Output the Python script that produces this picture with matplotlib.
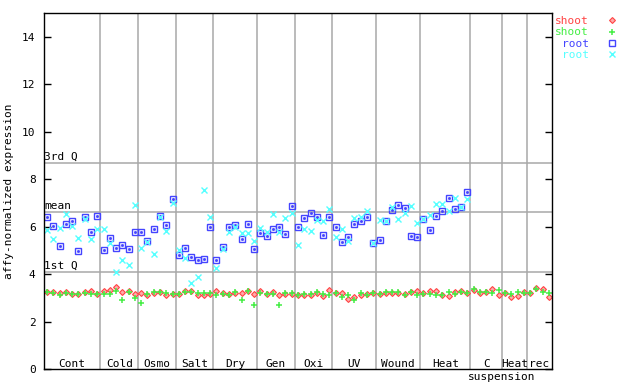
import numpy as np
import matplotlib
matplotlib.use("Agg")
import matplotlib.pyplot as plt

plt.rcParams['font.family'] = 'DejaVu Sans Mono'

# groups along x
groups = ["Cont", "Cold", "Osmo", "Salt", "Dry", "Gen", "Oxi", "UV", "Wound", "Heat", "C", "Heat", "rec"]
sizes = [9, 6, 6, 6, 7, 6, 6, 7, 7, 8, 5, 4, 4]

# shoot replicate 1 (red) and 2 (green)
shoot1 = [3.26, 3.25, 3.20, 3.25, 3.15, 3.15, 3.25, 3.30, 3.17,
          3.29, 3.33, 3.45, 3.24, 3.29, 3.15,
          3.19, 3.12, 3.19, 3.24, 3.12, 3.16,
          3.16, 3.29, 3.28, 3.12, 3.12, 3.16,
          3.29, 3.20, 3.16, 3.20, 3.20, 3.29, 3.16,
          3.29, 3.15, 3.24, 3.12, 3.16, 3.16,
          3.12, 3.12, 3.12, 3.20, 3.06, 3.33,
          3.20, 3.20, 2.94, 3.02, 3.12, 3.16, 3.19,
          3.16, 3.20, 3.20, 3.20, 3.16, 3.24, 3.29,
          3.20, 3.29, 3.29, 3.12, 3.08, 3.24, 3.29, 3.19,
          3.33, 3.20, 3.24, 3.38, 3.11,
          3.20, 3.03, 3.08, 3.24,
          3.19, 3.42, 3.38, 3.02]
shoot2 = [3.23, 3.22, 3.10, 3.20, 3.16, 3.15, 3.21, 3.17, 3.16,
          3.15, 3.16, 3.29, 2.90, 3.24, 2.98,
          2.77, 3.15, 3.24, 3.24, 3.19, 3.16,
          3.16, 3.24, 3.24, 3.19, 3.19, 3.21,
          3.12, 3.16, 3.12, 3.24, 2.90, 3.29, 2.69,
          3.20, 3.16, 3.16, 2.69, 3.20, 3.20,
          3.12, 3.16, 3.16, 3.24, 3.16, 3.12,
          3.20, 3.02, 3.12, 2.90, 3.20, 3.12, 3.19,
          3.16, 3.24, 3.24, 3.24, 3.12, 3.24, 3.12,
          3.16, 3.16, 3.12, 3.12, 3.24, 3.16, 3.24, 3.19,
          3.38, 3.24, 3.24, 3.20, 3.33,
          3.20, 3.16, 3.24, 3.19,
          3.19, 3.38, 3.24, 3.19]

# root replicate 1 (blue) and 2 (cyan), only first 68 samples
root1 = [6.39, 6.01, 5.17, 6.11, 6.22, 4.97, 6.39, 5.77, 6.43,
         5.01, 5.51, 5.10, 5.21, 5.06, 5.77,
         5.77, 5.38, 5.89, 6.43, 6.05, 7.16,
         4.79, 5.08, 4.71, 4.59, 4.62, 5.97,
         4.58, 5.12, 5.97, 6.05, 5.47, 6.10, 5.05,
         5.72, 5.59, 5.89, 5.97, 5.68, 6.86,
         5.97, 6.35, 6.56, 6.39, 5.63, 6.39,
         5.97, 5.34, 5.55, 6.10, 6.22, 6.39, 5.30,
         5.42, 6.22, 6.69, 6.90, 6.77, 5.59, 5.55,
         6.31, 5.85, 6.43, 6.65, 7.19, 6.73, 6.81, 7.45]
root2 = [5.86, 5.46, 5.93, 6.52, 6.01, 5.51, 6.31, 5.46, 5.89,
         5.89, 5.30, 4.08, 4.59, 4.37, 6.90,
         5.10, 5.34, 4.83, 6.39, 5.80, 6.98,
         5.01, 4.66, 3.61, 3.86, 7.54, 6.39,
         4.24, 5.04, 5.76, 5.97, 5.72, 5.72, 5.39,
         5.93, 5.76, 6.52, 5.76, 6.35, 6.56,
         5.21, 5.89, 5.80, 6.27, 6.22, 6.73,
         5.55, 5.89, 5.38, 6.35, 6.39, 6.65, 5.30,
         6.27, 6.22, 6.81, 6.31, 6.56, 6.86, 6.14,
         6.31, 6.48, 6.94, 6.94, 6.65, 7.19, 6.81, 7.15]

q3 = 8.68
mean = 6.61
q1 = 4.08

n = sum(sizes)
xs = np.arange(n) + 0.5
xr = np.arange(len(root1)) + 0.5
bounds = np.cumsum(sizes)

fig = plt.figure(figsize=(6.4, 3.84), dpi=100)
ax = fig.add_axes([44/640, 1-369/384, 508/640, 356/384])

gray = '#a8a8a8'
for b in bounds[:-1]:
    ax.axvline(b, color=gray, lw=1.1, zorder=1)
for v in [q3, mean, q1]:
    ax.axhline(v, color=gray, lw=1.1, zorder=1)

fs = 8
ax.text(0.05, q3 + 0.05, "3rd Q", fontsize=fs, va='bottom')
ax.text(0.05, mean + 0.05, "mean", fontsize=fs, va='bottom')
ax.text(0.05, q1 + 0.05, "1st Q", fontsize=fs, va='bottom')

l1, = ax.plot(xs, shoot1, ls='none', marker='D', ms=3.0, mfc='#ffaaaa', mec='#ff4444', mew=0.8, label='shoot')
l2, = ax.plot(xs, shoot2, ls='none', marker='+', ms=4.5, mew=1.1, color='#44ee44', label='shoot')
l3, = ax.plot(xr, root1, ls='none', marker='s', ms=4.0, mfc='none', mec='#4444ff', mew=1.0, label='root')
ax.plot(xr, root1, ls='none', marker='s', ms=1.0, color='#4444ff')
l4, = ax.plot(xr, root2, ls='none', marker='x', ms=3.8, mew=1.0, color='#55ffff', label='root')

# group labels
starts = np.concatenate([[0], bounds[:-1]])
for g, s, e in zip(groups, starts, bounds):
    ax.text((s + e) / 2, 0.2, g, fontsize=fs, ha='center', va='center')
fig.text(502/640, 1-377/384, "suspension", fontsize=fs, ha='center', va='center')

ax.set_xlim(0, n)
ax.set_ylim(0, 15)
ax.set_yticks(range(0, 15, 2))
ax.set_xticks([])
ax.tick_params(axis='y', direction='in', length=5, width=1, right=True, labelsize=fs, pad=6)
for sp in ax.spines.values():
    sp.set_linewidth(1)
ax.set_ylabel("affy-normalized expression", fontsize=fs, labelpad=6)

leg = ax.legend(handles=[l1, l2, l3, l4], loc='upper left', bbox_to_anchor=(1.0, 1.0),
                frameon=False, markerfirst=False, numpoints=1, fontsize=fs,
                handlelength=1.0, handletextpad=1.6, labelspacing=0.1,
                borderaxespad=0.0, borderpad=0.3,
                labelcolor=['#ff4444', '#44ee44', '#4444ff', '#55ffff'])

fig.savefig("out.png", dpi=100)
